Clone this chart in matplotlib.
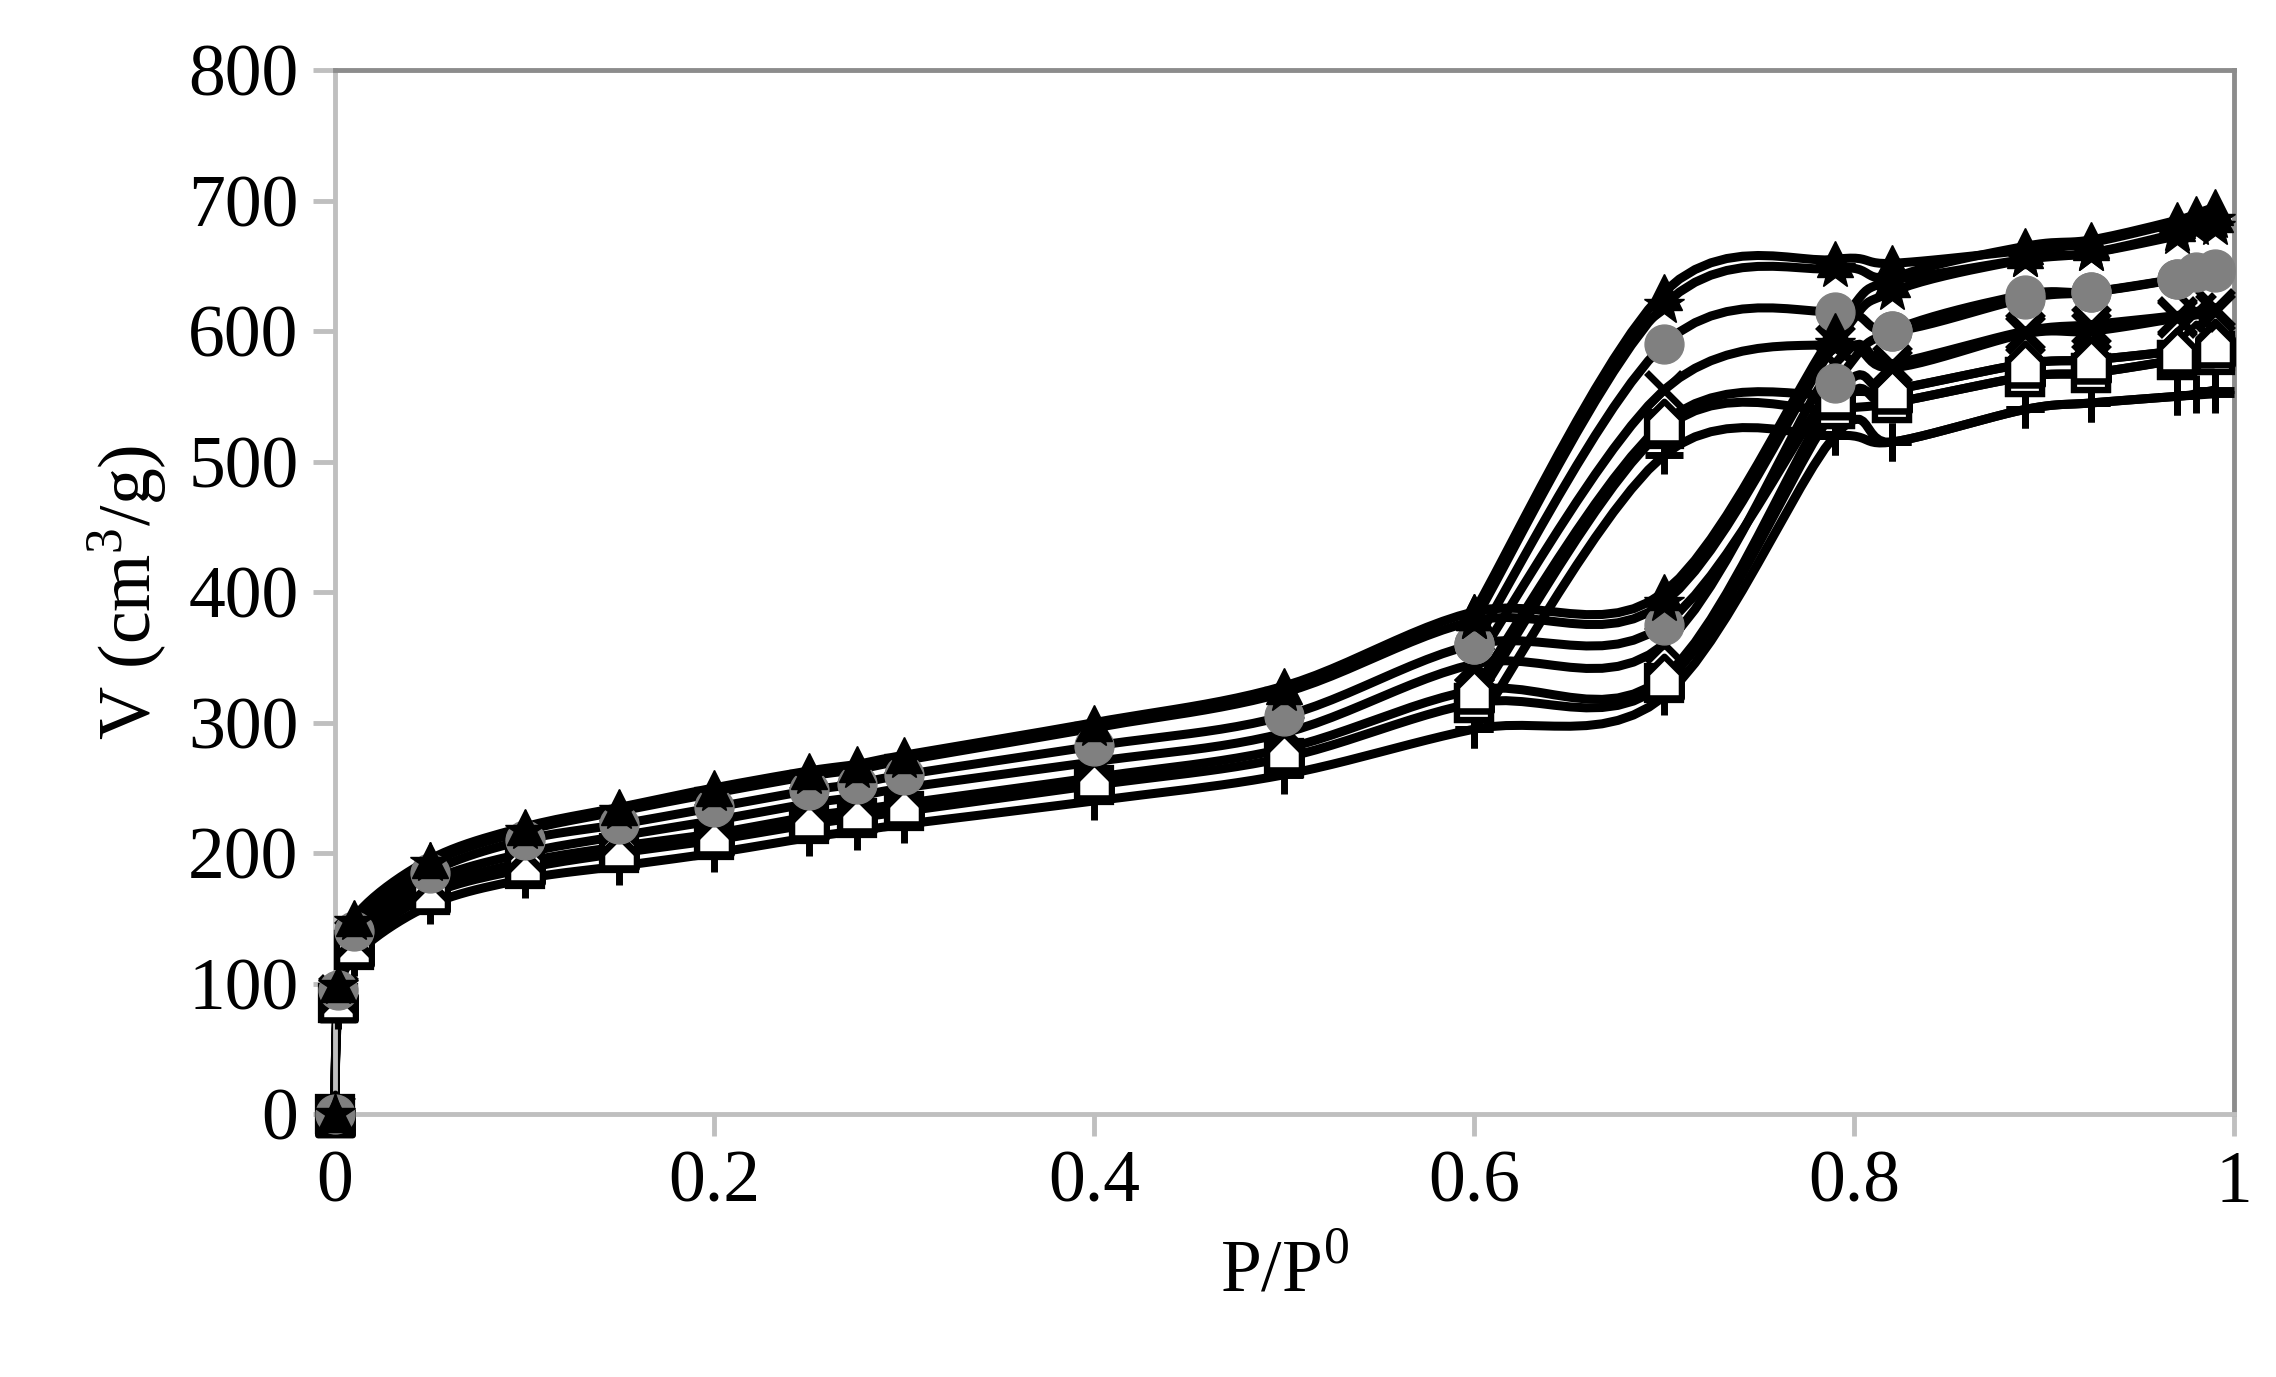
import numpy as np
import matplotlib
matplotlib.use("Agg")
import matplotlib.pyplot as plt
from matplotlib.path import Path

plt.rcParams['font.family'] = ['Liberation Serif', 'DejaVu Serif']

x_ads = [0, 0.002, 0.01, 0.05, 0.1, 0.15, 0.2, 0.25, 0.275, 0.3, 0.4, 0.5, 0.6, 0.7, 0.79, 0.82, 0.89, 0.925, 0.97, 0.98, 0.99]
x_des = [0.99, 0.97, 0.925, 0.89, 0.82, 0.79, 0.7, 0.6]

tri_ads = [0, 100, 150, 195, 220, 235, 250, 263, 268, 275, 300, 328, 385, 400, 600, 640, 665, 670, 685, 690, 695]
tri_des = [690, 683, 668, 662, 652, 655, 630, 385]
ast_ads = [0, 98, 147, 192, 217, 232, 246, 259, 264, 271, 296, 323, 378, 392, 590, 630, 655, 660, 675, 680, 685]
ast_des = [680, 673, 660, 655, 640, 648, 620, 378]
cir_ads = [0, 95, 140, 185, 210, 222, 235, 248, 253, 260, 282, 305, 360, 375, 560, 600, 628, 630, 640, 645, 648]
cir_des = [645, 640, 630, 625, 600, 615, 590, 360]
x_ads_v = [0, 92, 135, 178, 200, 213, 225, 238, 243, 250, 270, 292, 345, 360, 575, 575, 600, 605, 612, 615, 618]
x_des_v = [615, 610, 600, 598, 572, 590, 555, 345]
hou_ads = [0, 88, 130, 172, 193, 205, 215, 228, 233, 238, 258, 280, 325, 335, 550, 555, 575, 578, 585, 590, 592]
hou_des = [590, 585, 578, 575, 555, 552, 530, 325]
sq_ads = [0, 85, 126, 168, 188, 200, 210, 222, 227, 232, 252, 273, 315, 330, 540, 545, 565, 568, 578, 582, 585]
sq_des = [582, 578, 568, 565, 545, 540, 525, 315]
plus_ads = [0, 80, 120, 160, 180, 190, 200, 212, 217, 222, 240, 260, 295, 320, 520, 515, 540, 545, 550, 552, 555]
plus_des = [552, 550, 545, 540, 515, 520, 505, 295]

house = Path([(-0.5, -0.6), (0.5, -0.6), (0.5, 0.1), (0, 0.6), (-0.5, 0.1), (-0.5, -0.6)],
             [Path.MOVETO, Path.LINETO, Path.LINETO, Path.LINETO, Path.LINETO, Path.CLOSEPOLY])

series = [
    (plus_ads, plus_des, dict(marker='+', ms=28, mew=5, mec='black')),
    (sq_ads, sq_des, dict(marker='s', ms=24, mew=4.5, mfc='white', mec='black')),
    (hou_ads, hou_des, dict(marker=house, ms=30, mew=4.5, mfc='white', mec='black')),
    (x_ads_v, x_des_v, dict(marker='x', ms=26, mew=5, mec='black')),
    (cir_ads, cir_des, dict(marker='o', ms=28, mfc='#808080', mec='#808080')),
    (ast_ads, ast_des, dict(marker='*', ms=30, mfc='black', mec='black')),
    (tri_ads, tri_des, dict(marker='^', ms=26, mfc='black', mec='black')),
]

def smooth(x, y, n=12):
    x = np.asarray(x, float); y = np.asarray(y, float)
    P = np.column_stack([x, y])
    P = np.vstack([P[0], P, P[-1]])
    out = []
    for i in range(1, len(P) - 2):
        p0, p1, p2, p3 = P[i-1], P[i], P[i+1], P[i+2]
        t = np.linspace(0, 1, n, endpoint=False)[:, None]
        c = 0.5 * ((2*p1) + (-p0+p2)*t + (2*p0-5*p1+4*p2-p3)*t**2 + (-p0+3*p1-3*p2+p3)*t**3)
        out.append(c)
    out.append(P[-2][None, :])
    out = np.vstack(out)
    return out[:, 0], out[:, 1]

fig = plt.figure(figsize=(22.76, 13.77), dpi=100)
ax = fig.add_axes([0.147, 0.191, 0.8345, 0.758])

for ads, des, st in series:
    for xs, ys in ((x_ads, ads), (x_des, des)):
        sx, sy = smooth(xs, ys)
        ax.plot(sx, sy, color='black', lw=6.5, zorder=2, solid_capstyle='round', clip_on=False)
        ax.plot(xs, ys, ls='none', zorder=3, clip_on=False, **st)

ax.set_xlim(0, 1)
ax.set_ylim(0, 800)
ax.set_xticks([0, 0.2, 0.4, 0.6, 0.8, 1])
ax.set_xticklabels(['0', '0.2', '0.4', '0.6', '0.8', '1'])
ax.set_yticks(range(0, 801, 100))
for s in ['left', 'bottom']:
    ax.spines[s].set_color('#BFBFBF'); ax.spines[s].set_linewidth(3.5)
for s in ['top', 'right']:
    ax.spines[s].set_color('#8C8C8C'); ax.spines[s].set_linewidth(3.5)
ax.tick_params(direction='out', length=16, width=3.5, color='#BFBFBF', labelsize=53, pad=10)
ax.set_xlabel('P/P$^\\mathregular{0}$', fontsize=53, labelpad=16)
ax.set_ylabel('V (cm$^\\mathregular{3}$/g)', fontsize=53, labelpad=14)

fig.savefig('out.png', dpi=100)
